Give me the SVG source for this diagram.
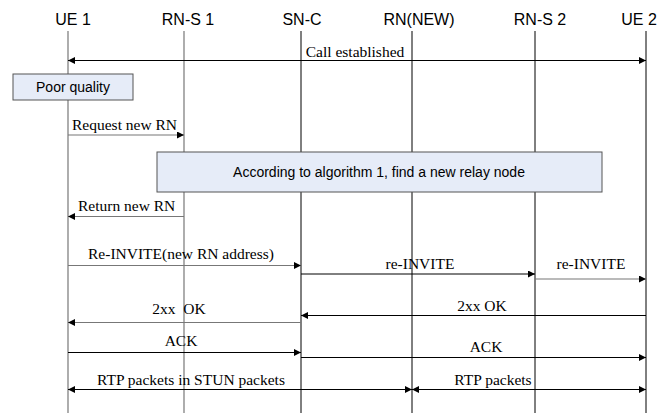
<svg xmlns="http://www.w3.org/2000/svg" width="662" height="415" viewBox="0 0 662 415">
<style>
.hdr{font-family:"Liberation Sans",Arial,sans-serif;font-size:16px;fill:#000;text-anchor:middle}
.lbl{font-family:"Liberation Serif","Times New Roman",serif;font-size:15.5px;fill:#000;text-anchor:middle}
.box{fill:#e6ecf8;stroke:#555;stroke-width:1}
.btx{font-family:"Liberation Sans",Arial,sans-serif;font-size:14px;fill:#000;text-anchor:middle}
.ll{stroke:#000;stroke-width:1}
.llg{stroke:#777;stroke-width:1.2}
.m{stroke:#000;stroke-width:1;fill:none}
.mg{stroke:#777;stroke-width:1.2;fill:none}
</style>
<defs>
<marker id="ah" viewBox="0 0 10 10" refX="10" refY="5" markerWidth="8" markerHeight="7" markerUnits="userSpaceOnUse" orient="auto-start-reverse">
<path d="M0,0 L10,5 L0,10 z" fill="#000"/>
</marker>
</defs>
<rect width="662" height="415" fill="#fff"/>
<g id="lifelines">
<g id="ue1"><text class="hdr" x="73" y="25">UE 1</text><line class="llg" x1="68" y1="31" x2="68" y2="413"/></g>
<g id="rns1"><text class="hdr" x="188" y="25">RN-S 1</text><line class="llg" x1="184" y1="31" x2="184" y2="413"/></g>
<g id="snc"><text class="hdr" x="302" y="25">SN-C</text><line class="ll" x1="301" y1="31" x2="301" y2="413"/></g>
<g id="rnnew"><text class="hdr" x="419" y="25">RN(NEW)</text><line class="ll" x1="412" y1="31" x2="412" y2="413"/></g>
<g id="rns2"><text class="hdr" x="540" y="25">RN-S 2</text><line class="ll" x1="535" y1="31" x2="535" y2="413"/></g>
<g id="ue2"><text class="hdr" x="639" y="25">UE 2</text><line class="ll" x1="646" y1="31" x2="646" y2="413"/></g>
</g>
<g id="poor"><rect class="box" x="13" y="74" width="120" height="26"/><text class="btx" x="73" y="92">Poor quality</text></g>
<g id="algo"><rect class="box" x="157" y="152" width="445" height="40"/><text class="btx" x="379" y="177">According to algorithm 1, find a new relay node</text></g>
<g id="connectors">
<line class="m" x1="68" y1="60.5" x2="646" y2="60.5" marker-start="url(#ah)" marker-end="url(#ah)"/>
<text class="lbl" x="355" y="57">Call established</text>
<line class="mg" x1="68" y1="135" x2="184" y2="135" marker-end="url(#ah)"/>
<text class="lbl" x="72" y="130" style="text-anchor:start">Request new RN</text>
<line class="mg" x1="184" y1="216.5" x2="68" y2="216.5" marker-end="url(#ah)"/>
<text class="lbl" x="78" y="211" style="text-anchor:start">Return new RN</text>
<line class="mg" x1="68" y1="265.5" x2="301" y2="265.5" marker-end="url(#ah)"/>
<text class="lbl" x="181" y="259">Re-INVITE(new RN address)</text>
<line class="m" x1="301" y1="274" x2="535" y2="274" marker-end="url(#ah)"/>
<text class="lbl" x="420" y="269">re-INVITE</text>
<line class="mg" x1="535" y1="279" x2="646" y2="279" marker-end="url(#ah)"/>
<text class="lbl" x="591" y="269">re-INVITE</text>
<line class="m" x1="646" y1="315.5" x2="301" y2="315.5" marker-end="url(#ah)"/>
<text class="lbl" x="482" y="311">2xx OK</text>
<line class="mg" x1="301" y1="322.5" x2="68" y2="322.5" marker-end="url(#ah)"/>
<text class="lbl" x="179" y="314" style="white-space:pre">2xx  OK</text>
<line class="m" x1="68" y1="352.5" x2="301" y2="352.5" marker-end="url(#ah)"/>
<text class="lbl" x="181" y="346">ACK</text>
<line class="m" x1="301" y1="357.5" x2="646" y2="357.5" marker-end="url(#ah)"/>
<text class="lbl" x="486" y="352">ACK</text>
<line class="m" x1="68" y1="389.5" x2="412" y2="389.5" marker-start="url(#ah)" marker-end="url(#ah)"/>
<text class="lbl" x="191" y="385">RTP packets in STUN packets</text>
<line class="m" x1="412" y1="389.5" x2="646" y2="389.5" marker-start="url(#ah)" marker-end="url(#ah)"/>
<text class="lbl" x="493" y="385">RTP packets</text>
</g>
</svg>
